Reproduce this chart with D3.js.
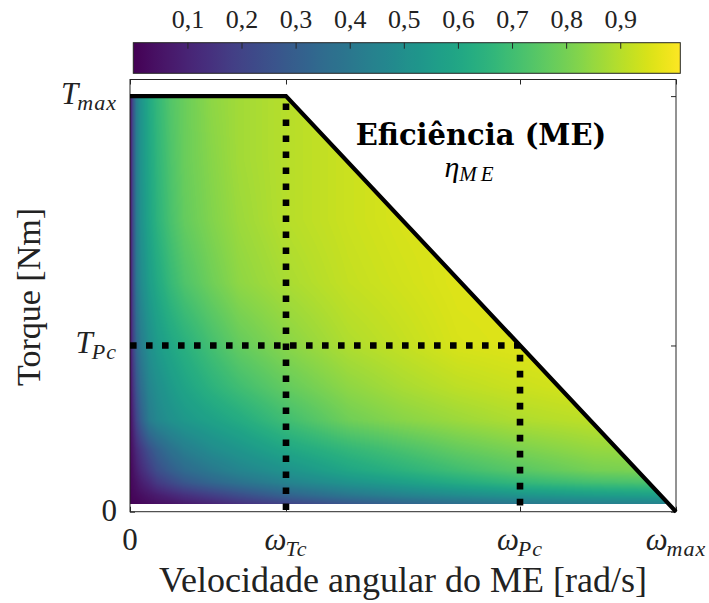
<!DOCTYPE html>
<html>
<head>
<meta charset="utf-8">
<script src="https://cdn.jsdelivr.net/npm/d3@7/dist/d3.min.js"></script>
<style>
  body { margin: 0; background: #fff; }
  svg { display: block; }
</style>
</head>
<body>
<svg id="chart" width="709" height="603"></svg>
<script>
// speeds and torques are normalised: 1 = omega_max, 1 = T_max
var omegaTc = 0.2857, omegaPc = 0.7143, torquePc = 0.4;
var envelopeSpeed = [0, omegaTc, 1];
var envelopeTorque = [1, 1, 0];

// efficiency map (rows follow torqueGrid, columns speedGrid)
var speedGrid = [0, 0.005, 0.012, 0.02, 0.035, 0.05, 0.075, 0.1, 0.15, 0.2, 0.286, 0.4, 0.5, 0.6, 0.714, 0.85, 1.0];
var torqueGrid = [0.0185, 0.04, 0.07, 0.1, 0.15, 0.22, 0.3, 0.4, 0.55, 0.7, 0.85, 1.0];
var etaGrid = [
  [0.00, 0.01, 0.01, 0.02, 0.03, 0.04, 0.05, 0.07, 0.10, 0.14, 0.20, 0.27, 0.32, 0.36, 0.40, 0.43, 0.45],
  [0.00, 0.02, 0.03, 0.04, 0.06, 0.08, 0.11, 0.14, 0.19, 0.24, 0.32, 0.40, 0.45, 0.49, 0.53, 0.56, 0.58],
  [0.01, 0.03, 0.05, 0.08, 0.12, 0.17, 0.22, 0.27, 0.33, 0.38, 0.45, 0.52, 0.57, 0.62, 0.67, 0.71, 0.73],
  [0.01, 0.04, 0.08, 0.12, 0.18, 0.24, 0.30, 0.35, 0.41, 0.46, 0.52, 0.60, 0.65, 0.70, 0.75, 0.80, 0.82],
  [0.02, 0.06, 0.12, 0.17, 0.25, 0.31, 0.38, 0.43, 0.49, 0.53, 0.60, 0.67, 0.72, 0.77, 0.81, 0.85, 0.86],
  [0.02, 0.10, 0.21, 0.30, 0.42, 0.47, 0.51, 0.54, 0.58, 0.62, 0.70, 0.79, 0.83, 0.86, 0.89, 0.91, 0.92],
  [0.02, 0.14, 0.27, 0.36, 0.46, 0.50, 0.55, 0.59, 0.65, 0.70, 0.77, 0.84, 0.88, 0.91, 0.93, 0.95, 0.95],
  [0.02, 0.18, 0.33, 0.42, 0.50, 0.55, 0.60, 0.64, 0.71, 0.77, 0.83, 0.89, 0.92, 0.95, 0.96, 0.965, 0.965],
  [0.02, 0.21, 0.40, 0.48, 0.56, 0.61, 0.68, 0.73, 0.79, 0.84, 0.88, 0.92, 0.94, 0.96, 0.965, 0.965, 0.965],
  [0.02, 0.22, 0.42, 0.51, 0.59, 0.65, 0.72, 0.77, 0.82, 0.86, 0.90, 0.93, 0.95, 0.96, 0.96, 0.96, 0.96],
  [0.02, 0.23, 0.43, 0.52, 0.60, 0.66, 0.73, 0.78, 0.83, 0.87, 0.90, 0.93, 0.95, 0.96, 0.96, 0.96, 0.96],
  [0.02, 0.23, 0.43, 0.52, 0.61, 0.67, 0.74, 0.78, 0.84, 0.87, 0.90, 0.93, 0.94, 0.95, 0.95, 0.95, 0.95]
];

var colorMax = 1.011;
var cbarTicks = [0.1, 0.2, 0.3, 0.4, 0.5, 0.6, 0.7, 0.8, 0.9];

var xTickValues = [0, omegaTc, omegaPc, 1];
var xTickBase = ["0", "\u03c9", "\u03c9", "\u03c9"];
var xTickSub = ["", "Tc", "Pc", "max"];
var yTickValues = [0, torquePc, 1];
var yTickBase = ["0", "T", "T"];
var yTickSub = ["", "Pc", "max"];

var svg = d3.select("#chart");
var serif = "'Liberation Serif', 'Times New Roman', serif";

var x = d3.scaleLinear().domain([0, 1]).range([130, 676]);
var y = d3.scaleLinear().domain([0, 1.04]).range([511.7, 79.5]);
var color = d3.scaleSequential(d3.interpolateViridis).domain([0, colorMax]);

// ---- heat map (shaded like matlab "shading interp") ----
var pw = 546, ph = 433;
var canvas = document.createElement("canvas");
canvas.width = pw;
canvas.height = ph;
var ctx = canvas.getContext("2d");
var img = ctx.createImageData(pw, ph);

function bracket(arr, v) {
  var i = d3.bisectRight(arr, v) - 1;
  i = Math.max(0, Math.min(arr.length - 2, i));
  var f = (v - arr[i]) / (arr[i + 1] - arr[i]);
  return [i, Math.max(0, Math.min(1, f))];
}

for (var j = 0; j < ph; j++) {
  var t = y.invert(79.5 + j + 0.5);
  if (t < torqueGrid[0] || t > 1) continue;
  var bt = bracket(torqueGrid, t);
  for (var i = 0; i < pw; i++) {
    var w = x.invert(130 + i + 0.5);
    var bw = bracket(speedGrid, w);
    var r0 = etaGrid[bt[0]], r1 = etaGrid[bt[0] + 1];
    var a = r0[bw[0]] + (r0[bw[0] + 1] - r0[bw[0]]) * bw[1];
    var b = r1[bw[0]] + (r1[bw[0] + 1] - r1[bw[0]]) * bw[1];
    var c = d3.rgb(color(a + (b - a) * bt[1]));
    var k = (j * pw + i) * 4;
    img.data[k] = c.r;
    img.data[k + 1] = c.g;
    img.data[k + 2] = c.b;
    img.data[k + 3] = 255;
  }
}
ctx.putImageData(img, 0, 0);

var t0 = torqueGrid[0];
var clipPts = [
  [0, t0], [0, 1], [omegaTc, 1], [1 - t0 * (1 - omegaTc), t0]
];
svg.append("clipPath")
  .attr("id", "env")
  .append("polygon")
  .attr("points", clipPts.map(function(p) { return x(p[0]) + "," + y(p[1]); }).join(" "));

svg.append("image")
  .attr("x", 130)
  .attr("y", 79.5)
  .attr("width", pw)
  .attr("height", ph)
  .attr("preserveAspectRatio", "none")
  .attr("clip-path", "url(#env)")
  .attr("href", canvas.toDataURL());

// ---- axes box and inward ticks ----
var axisColor = "#262626";
function styleAxis(g) {
  g.select(".domain").remove();
  g.selectAll(".tick line").attr("stroke", axisColor);
}
svg.append("g").attr("transform", "translate(130,0)")
  .call(d3.axisLeft(y).tickValues(yTickValues).tickSize(-5).tickFormat(""))
  .call(styleAxis);
svg.append("g").attr("transform", "translate(676,0)")
  .call(d3.axisRight(y).tickValues(yTickValues).tickSize(-5).tickFormat(""))
  .call(styleAxis);
svg.append("g").attr("transform", "translate(0,511.7)")
  .call(d3.axisBottom(x).tickValues(xTickValues).tickSize(-5).tickFormat(""))
  .call(styleAxis);
svg.append("g").attr("transform", "translate(0,79.5)")
  .call(d3.axisTop(x).tickValues(xTickValues).tickSize(-5).tickFormat(""))
  .call(styleAxis);

svg.append("rect")
  .attr("x", x(0)).attr("y", y(1.04))
  .attr("width", x(1) - x(0)).attr("height", y(0) - y(1.04))
  .attr("fill", "none").attr("stroke", axisColor).attr("stroke-width", 1);

// ---- envelope and dotted guide lines ----
var line = d3.line().x(function(d) { return x(d[0]); }).y(function(d) { return y(d[1]); });
svg.append("path")
  .datum(d3.zip(envelopeSpeed, envelopeTorque))
  .attr("d", line)
  .attr("fill", "none")
  .attr("stroke", "#000")
  .attr("stroke-width", 4.2)
  .attr("stroke-linejoin", "miter");

var guides = [
  { pts: [[0, torquePc], [omegaPc, torquePc]], offset: 0 },
  { pts: [[omegaTc, 1], [omegaTc, 0]], offset: 8.7 },
  { pts: [[omegaPc, torquePc], [omegaPc, 0]], offset: 6.6 }
];
svg.selectAll(".guide")
  .data(guides)
  .enter()
  .append("path")
  .attr("class", "guide")
  .attr("d", function(d) { return line(d.pts); })
  .attr("fill", "none")
  .attr("stroke", "#000")
  .attr("stroke-width", 6.6)
  .attr("stroke-dasharray", "6.6 9.4")
  .attr("stroke-dashoffset", function(d) { return d.offset; });

// ---- tick labels (math style) ----
function mathText(px, py, base, sub, anchor, size, subSize, italic) {
  var t = svg.append("text")
    .attr("x", px).attr("y", py)
    .attr("text-anchor", anchor)
    .attr("font-family", serif)
    .attr("font-size", size)
    .attr("fill", "#222");
  t.append("tspan").attr("font-style", italic ? "italic" : "normal").text(base);
  if (sub) {
    t.append("tspan")
      .attr("font-style", "italic")
      .attr("font-size", subSize)
      .attr("dx", -1)
      .attr("dy", 6)
      .attr("letter-spacing", 1)
      .text(sub);
  }
  return t;
}

yTickValues.forEach(function(v, i) {
  var base = yTickBase[i];
  var py = base === "0" ? y(v) + 9 : y(v) + 8;
  mathText(117, py, base, yTickSub[i], "end", 31, 22, base !== "0");
});
xTickValues.forEach(function(v, i) {
  var base = xTickBase[i];
  mathText(x(v), 550, base, xTickSub[i], "middle", 31, 22, base !== "0");
});

// ---- axis titles ----
svg.append("text")
  .attr("x", 403).attr("y", 592)
  .attr("text-anchor", "middle")
  .attr("font-family", serif)
  .attr("font-size", 36)
  .attr("fill", "#222")
  .text("Velocidade angular do ME [rad/s]");

svg.append("text")
  .attr("transform", "translate(40,297) rotate(-90)")
  .attr("text-anchor", "middle")
  .attr("font-family", serif)
  .attr("font-size", 34)
  .attr("fill", "#222")
  .text("Torque [Nm]");

// ---- annotation ----
svg.append("text")
  .attr("x", 481).attr("y", 145)
  .attr("text-anchor", "middle")
  .attr("font-family", "'DejaVu Serif', serif")
  .attr("font-weight", "bold")
  .attr("font-size", 29)
  .attr("fill", "#000")
  .text("Efici\u00eancia (ME)");

var eta = svg.append("text")
  .attr("x", 471).attr("y", 177)
  .attr("text-anchor", "middle")
  .attr("font-family", serif)
  .attr("font-style", "italic")
  .attr("font-size", 30)
  .attr("fill", "#000");
eta.append("tspan").text("\u03b7");
eta.append("tspan").attr("font-size", 21).attr("dy", 4).attr("letter-spacing", 4).text("ME");

// ---- colour bar ----
var cx = d3.scaleLinear().domain([0, colorMax]).range([133.3, 680.3]);
var grad = svg.append("defs").append("linearGradient").attr("id", "viridis");
grad.selectAll("stop")
  .data(d3.range(0, 1.0001, 0.02))
  .enter()
  .append("stop")
  .attr("offset", function(d) { return d; })
  .attr("stop-color", function(d) { return color(d * colorMax); });

svg.append("rect")
  .attr("x", cx(0)).attr("y", 42.7)
  .attr("width", cx(colorMax) - cx(0)).attr("height", 30.6)
  .attr("fill", "url(#viridis)")
  .attr("stroke", axisColor).attr("stroke-width", 1);

var commaFmt = d3.formatLocale({ decimal: ",", thousands: ".", grouping: [3], currency: ["", ""] }).format(".1f");
var cbarAxis = svg.append("g").attr("transform", "translate(0,42.7)")
  .call(d3.axisTop(cx).tickValues(cbarTicks).tickSize(-6).tickPadding(15).tickFormat(commaFmt));
cbarAxis.select(".domain").remove();
cbarAxis.selectAll(".tick line").attr("stroke", axisColor);
cbarAxis.selectAll(".tick text")
  .attr("font-family", serif)
  .attr("font-size", 26)
  .attr("fill", "#222");
</script>
</body>
</html>
